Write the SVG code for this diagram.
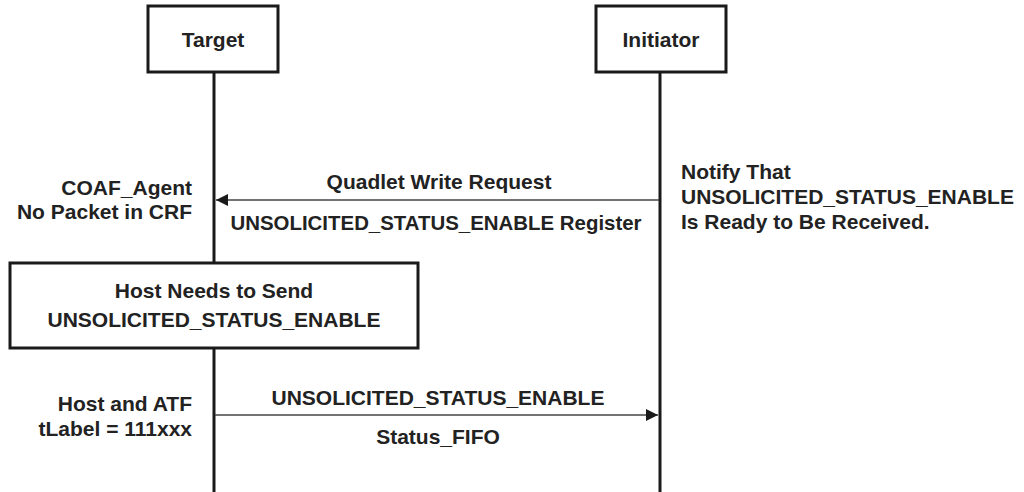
<svg xmlns="http://www.w3.org/2000/svg" width="1024" height="492" viewBox="0 0 1024 492">
<defs>
<style>
.box{fill:#fff;stroke:#1a1a1a;stroke-width:3}
.life{stroke:#1a1a1a;stroke-width:3;fill:none}
.msg{stroke:#444;stroke-width:1.3;fill:none}
text{font-family:"Liberation Sans",Arial,sans-serif;font-weight:bold;font-size:21px;fill:#222}
.c{text-anchor:middle}
.r{text-anchor:end}
</style>
<marker id="ah" viewBox="0 0 10 10" refX="10" refY="5" markerWidth="12" markerHeight="12" markerUnits="userSpaceOnUse" orient="auto">
<path d="M0,0 L10,5 L0,10 Z" fill="#1a1a1a"/>
</marker>
</defs>
<rect width="1024" height="492" fill="#fff"/>
<g id="connectors">
<line class="life" x1="214" y1="72" x2="214" y2="263"/>
<line class="life" x1="214" y1="348" x2="214" y2="492"/>
<line class="life" x1="660" y1="72" x2="660" y2="492"/>
<line class="msg" x1="659" y1="200" x2="216" y2="200" marker-end="url(#ah)"/>
<line class="msg" x1="215" y1="415" x2="658" y2="415" marker-end="url(#ah)"/>
<text class="c" x="439" y="189">Quadlet Write Request</text>
<text class="c" x="436" y="230" textLength="411" lengthAdjust="spacingAndGlyphs">UNSOLICITED_STATUS_ENABLE Register</text>
<text class="c" x="438" y="405">UNSOLICITED_STATUS_ENABLE</text>
<text class="c" x="438" y="444">Status_FIFO</text>
</g>
<g id="target">
<rect class="box" x="148" y="6" width="130" height="66"/>
<text class="c" x="213" y="47">Target</text>
</g>
<g id="initiator">
<rect class="box" x="596" y="6" width="130" height="66"/>
<text class="c" x="661" y="47">Initiator</text>
</g>
<g id="host-box">
<rect class="box" x="10" y="263" width="408" height="85"/>
<text class="c" x="214" y="298">Host Needs to Send</text>
<text class="c" x="214" y="327">UNSOLICITED_STATUS_ENABLE</text>
</g>
<g id="coaf-note">
<text class="r" x="192" y="195">COAF_Agent</text>
<text class="r" x="192" y="219">No Packet in CRF</text>
</g>
<g id="notify-note">
<text x="681" y="179">Notify That</text>
<text x="681" y="204">UNSOLICITED_STATUS_ENABLE</text>
<text x="681" y="229">Is Ready to Be Received.</text>
</g>
<g id="host-note">
<text class="r" x="192" y="411">Host and ATF</text>
<text class="r" x="192" y="436">tLabel = 111xxx</text>
</g>
</svg>
